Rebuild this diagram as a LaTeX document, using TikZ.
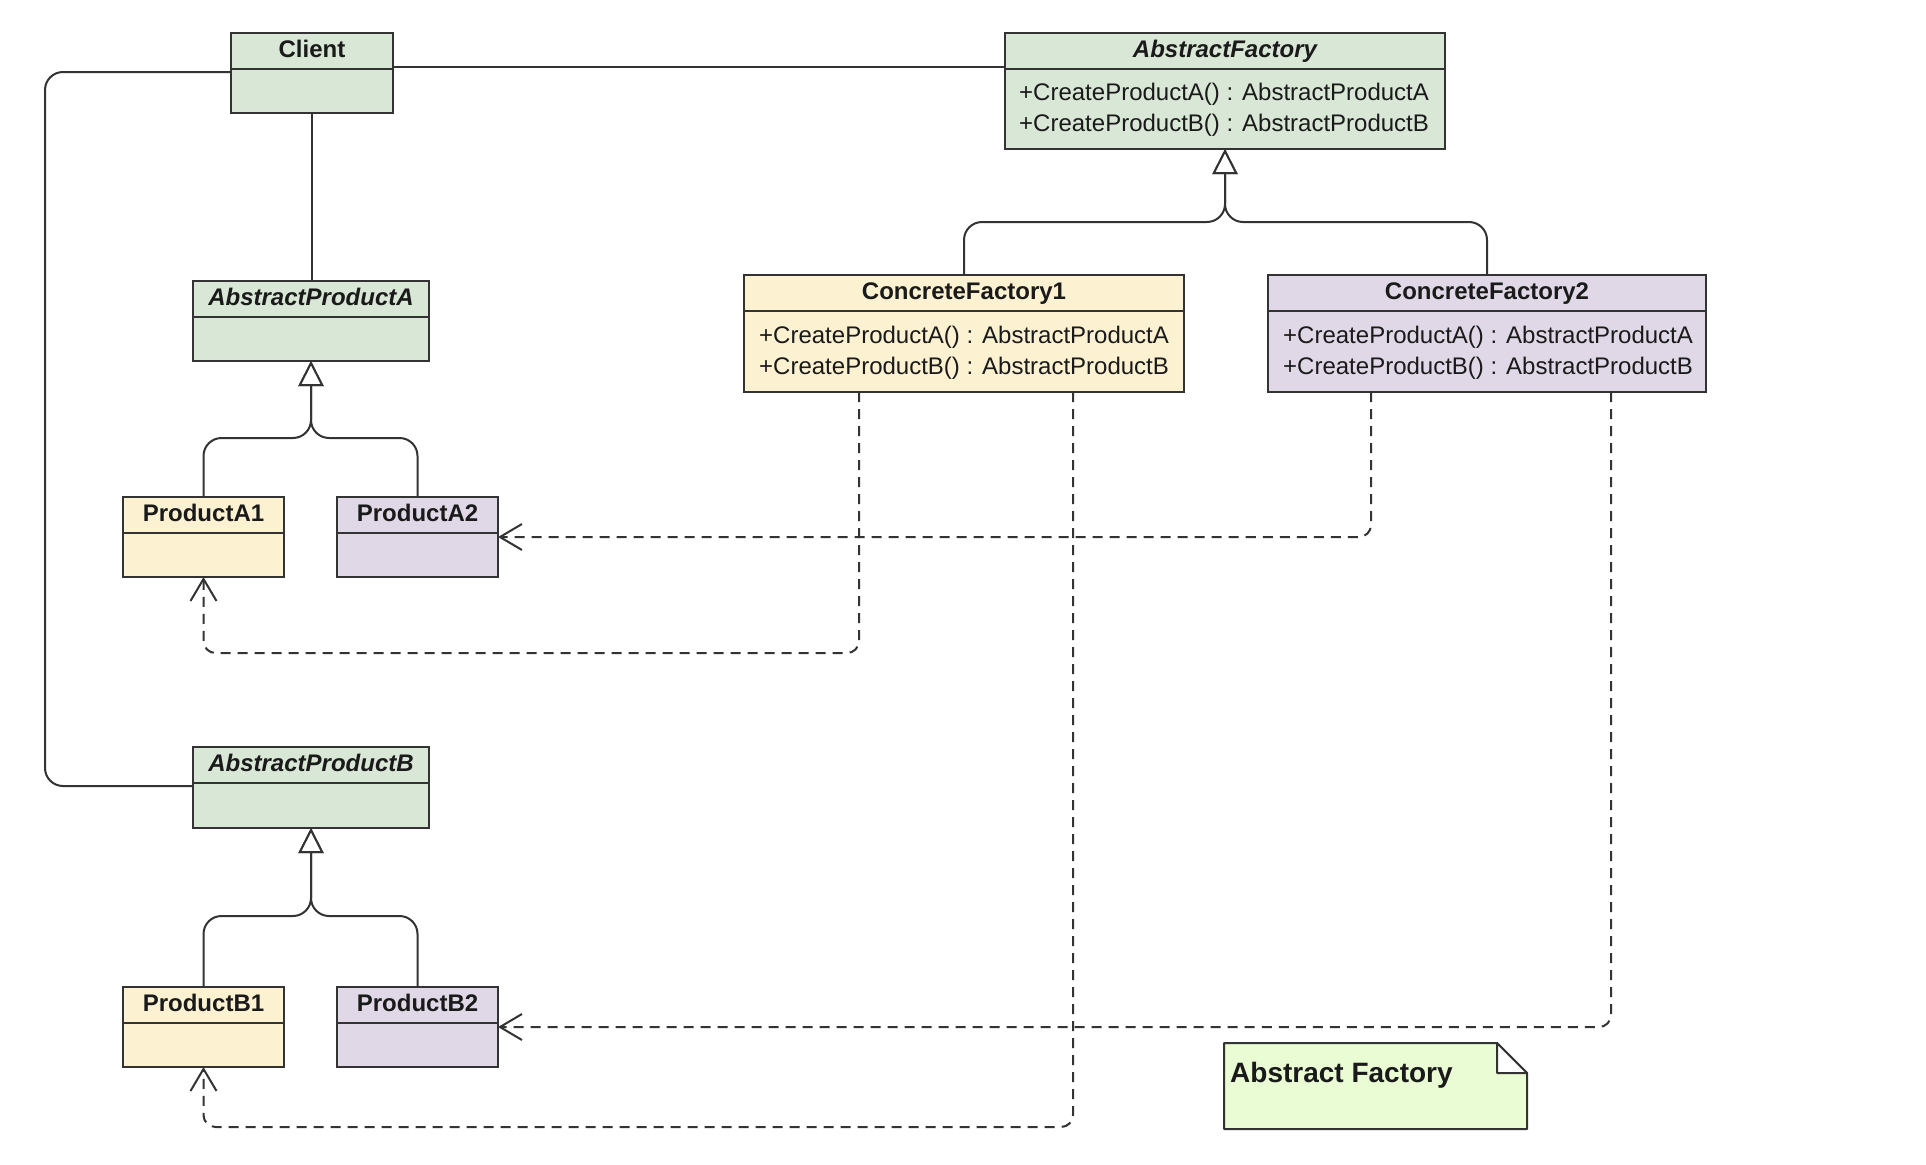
\documentclass[tikz,border=0pt]{standalone}
\usepackage{fontspec}
\setmainfont{Liberation Sans}
\usetikzlibrary{arrows.meta,calc}

\definecolor{ink}{HTML}{333333}
\definecolor{txt}{HTML}{1A1A1A}
\definecolor{greenfill}{HTML}{D9E7D6}
\definecolor{yellowfill}{HTML}{FCF1D1}
\definecolor{purplefill}{HTML}{E0D8E7}
\definecolor{notefill}{HTML}{E9FCD3}

\tikzset{
  box/.style={draw=ink, line width=2pt, anchor=north west, inner sep=0pt, outer sep=0pt},
  hdr/.style={box, text=txt, text height=17.5pt, text depth=4.5pt,
              font=\fontsize{24}{28}\selectfont\bfseries},
  ahdr/.style={hdr, font=\fontsize{24}{28}\selectfont\bfseries\itshape},
  members/.style={anchor=west, inner sep=0pt, align=left, text=txt,
                  font=\fontsize{24}{31}\selectfont},
  link/.style={draw=ink, line width=2pt},
  gen/.style={link, rounded corners=18pt,
              -{Triangle[open, length=25pt, width=25pt, fill=white]}},
  dep/.style={link, dash pattern=on 10pt off 7pt, rounded corners=12pt,
              -{Straight Barb[length=22pt, width=26pt]}},
}

\begin{document}
\begin{tikzpicture}[x=1pt, y=-1pt]
\fill[white] (0,0) rectangle (1926,1164);
\useasboundingbox (0,0) rectangle (1926,1164);

% ---- classes ----
\node[hdr, fill=greenfill, minimum width=162pt, minimum height=36pt] (clientH) at (231,33) {Client};
\node[box, fill=greenfill, minimum width=162pt, minimum height=44pt] (clientB) at (231,69) {};

\node[ahdr, fill=greenfill, minimum width=440pt, minimum height=36pt] (afH) at (1005,33) {AbstractFactory};
\node[box, fill=greenfill, minimum width=440pt, minimum height=80pt] (afB) at (1005,69) {};
\node[members] (afM) at ($(afB.west)+(14,1)$) {+CreateProductA() : AbstractProductA\\+CreateProductB() : AbstractProductB};

\node[hdr, fill=yellowfill, minimum width=440pt, minimum height=36pt] (cf1H) at (744,275) {ConcreteFactory1};
\node[box, fill=yellowfill, minimum width=440pt, minimum height=81pt] (cf1B) at (744,311) {};
\node[members] (cf1M) at ($(cf1B.west)+(15,1)$) {+CreateProductA() : AbstractProductA\\+CreateProductB() : AbstractProductB};

\node[hdr, fill=purplefill, minimum width=438pt, minimum height=36pt] (cf2H) at (1268,275) {ConcreteFactory2};
\node[box, fill=purplefill, minimum width=438pt, minimum height=81pt] (cf2B) at (1268,311) {};
\node[members] (cf2M) at ($(cf2B.west)+(15,1)$) {+CreateProductA() : AbstractProductA\\+CreateProductB() : AbstractProductB};

\node[ahdr, fill=greenfill, minimum width=236pt, minimum height=36pt] (apaH) at (193,281) {AbstractProductA};
\node[box, fill=greenfill, minimum width=236pt, minimum height=44pt] (apaB) at (193,317) {};

\node[hdr, fill=yellowfill, minimum width=161pt, minimum height=36pt] (pa1H) at (123,497) {ProductA1};
\node[box, fill=yellowfill, minimum width=161pt, minimum height=44pt] (pa1B) at (123,533) {};

\node[hdr, fill=purplefill, minimum width=161pt, minimum height=36pt] (pa2H) at (337,497) {ProductA2};
\node[box, fill=purplefill, minimum width=161pt, minimum height=44pt] (pa2B) at (337,533) {};

\node[ahdr, fill=greenfill, minimum width=236pt, minimum height=36pt] (apbH) at (193,747) {AbstractProductB};
\node[box, fill=greenfill, minimum width=236pt, minimum height=45pt] (apbB) at (193,783) {};

\node[hdr, fill=yellowfill, minimum width=161pt, minimum height=36pt] (pb1H) at (123,987) {ProductB1};
\node[box, fill=yellowfill, minimum width=161pt, minimum height=44pt] (pb1B) at (123,1023) {};

\node[hdr, fill=purplefill, minimum width=161pt, minimum height=36pt] (pb2H) at (337,987) {ProductB2};
\node[box, fill=purplefill, minimum width=161pt, minimum height=44pt] (pb2B) at (337,1023) {};

% ---- note ----
\path[draw=ink, line width=2pt, fill=notefill, line join=round]
  (1224,1043) -- (1497,1043) -- (1527,1073) -- (1527,1129) -- (1224,1129) -- cycle;
\path[draw=ink, line width=2pt, fill=white, line join=round]
  (1497,1043) -- (1497,1073) -- (1527,1073) -- cycle;
\node[anchor=west, inner sep=0pt, text=txt, font=\fontsize{28}{32}\selectfont\bfseries] (noteT) at (1230,1075) {Abstract Factory};

% ---- associations ----
\draw[link] ($(clientH.south east)+(0,-2)$) -- ($(afH.south west)+(0,-2)$);
\draw[link] (clientB.south) -- (clientB.south |- apaH.north);
\draw[link, rounded corners=18pt] ($(clientB.north west)+(0,3)$) -- ++(-186,0) |- ($(apbB.north west)+(0,3)$);

% ---- generalizations ----
\draw[gen] (cf1H.north) -- ++(0,-53) -| (afB.south);
\draw[gen] (cf2H.north) -- ++(0,-53) -| (afB.south);
\draw[gen] (pa1H.north) -- ++(0,-59) -| (apaB.south);
\draw[gen] (pa2H.north) -- ++(0,-59) -| (apaB.south);
\draw[gen] (pb1H.north) -- ++(0,-71) -| (apbB.south);
\draw[gen] (pb2H.north) -- ++(0,-71) -| (apbB.south);

% ---- dependencies ----
\draw[dep] ($(cf1B.south west)+(115,0)$) -- ++(0,261) -| (pa1B.south);
\draw[dep] ($(cf2B.south west)+(103,0)$) |- ($(pa2B.north east)+(0,4)$);
\draw[dep] ($(cf1B.south west)+(329,0)$) -- ++(0,735) -| (pb1B.south);
\draw[dep] ($(cf2B.south west)+(343,0)$) |- ($(pb2B.north east)+(0,4)$);
\end{tikzpicture}
\end{document}
